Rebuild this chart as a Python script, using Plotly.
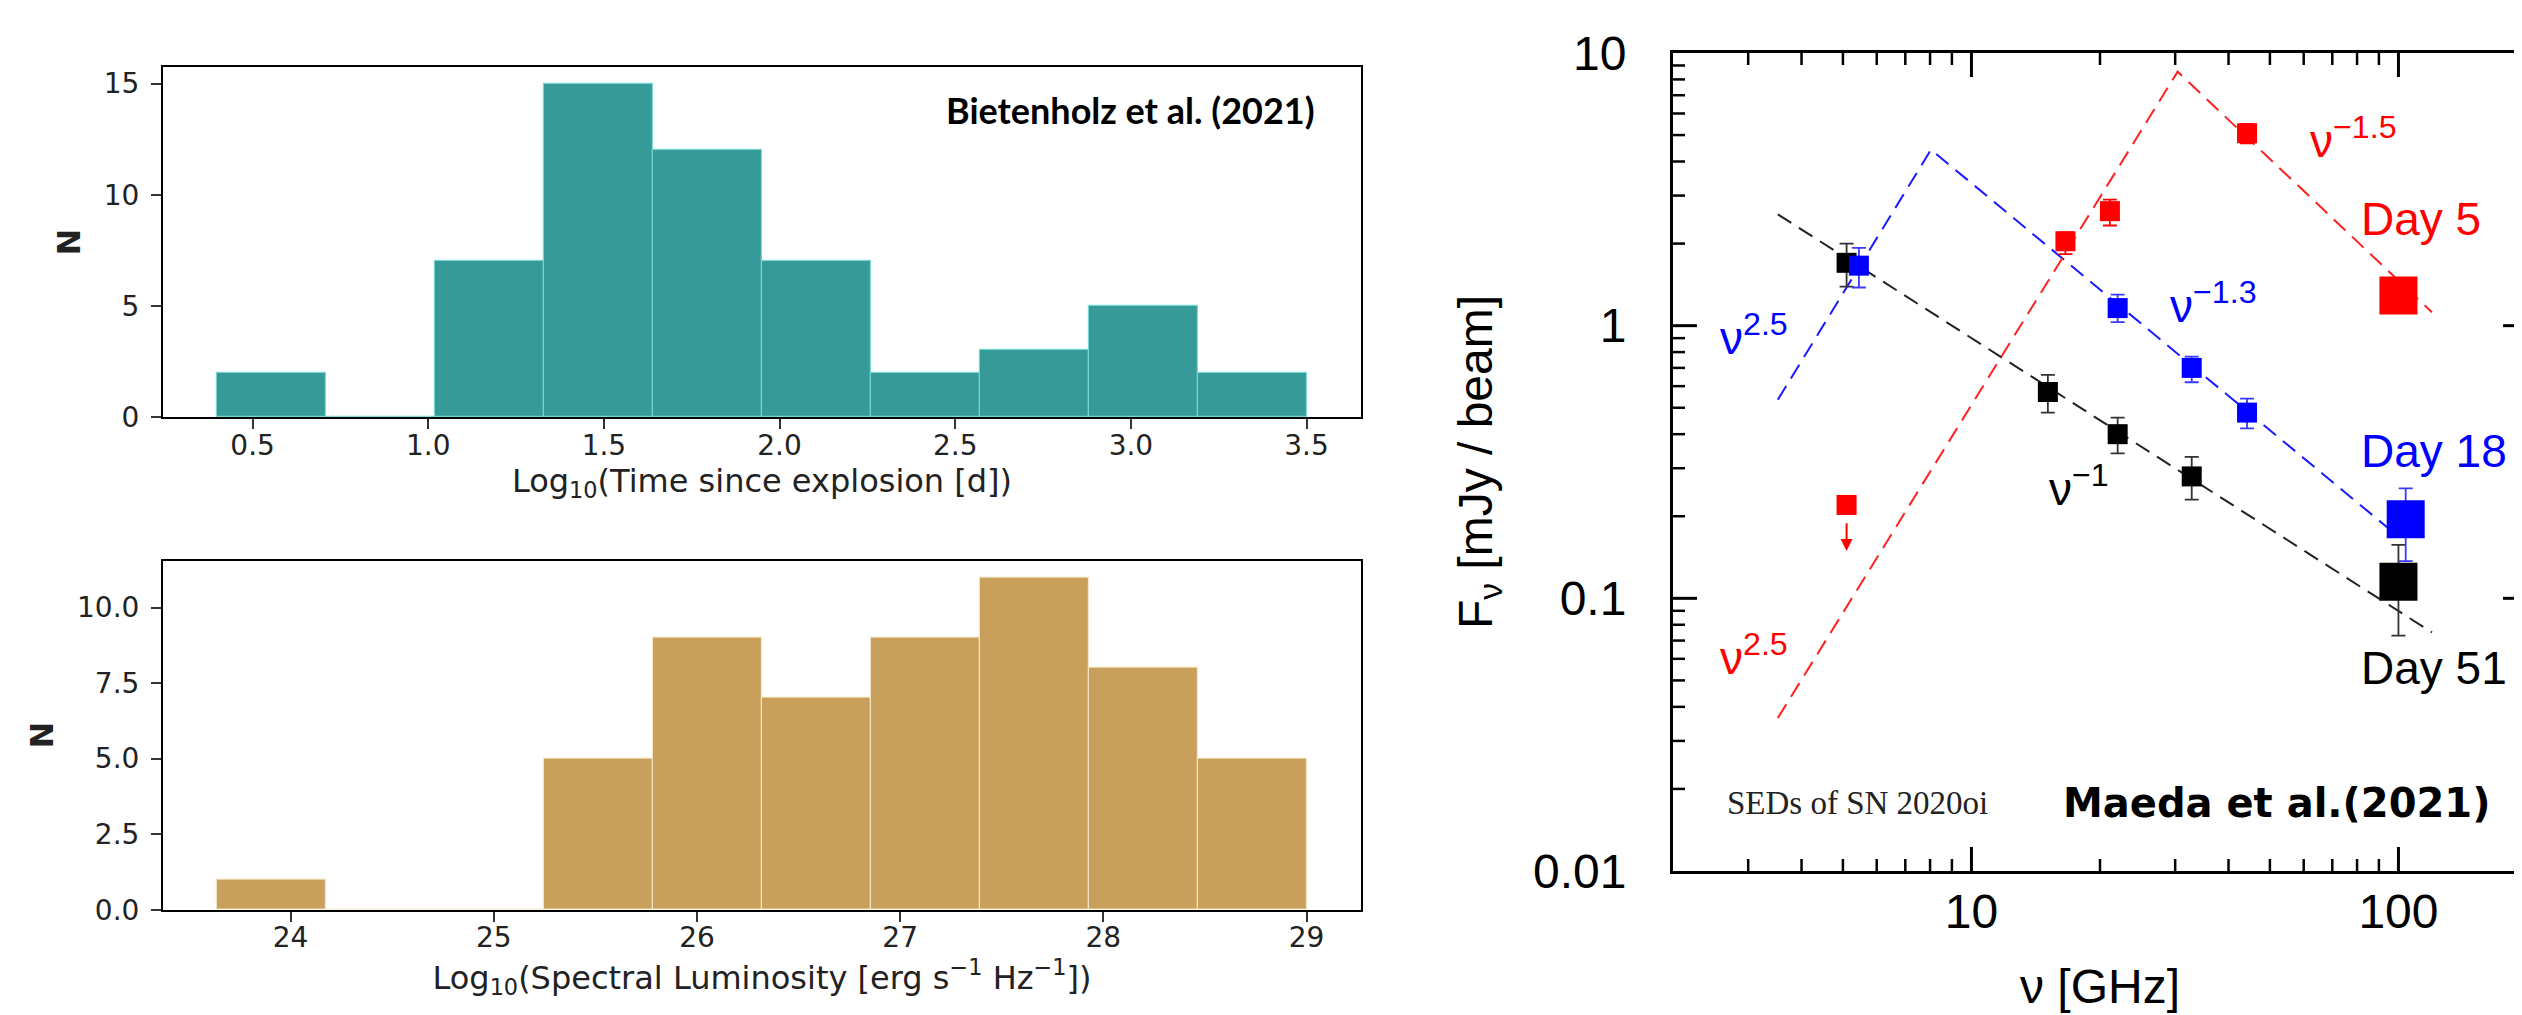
import numpy as np
import plotly.graph_objects as go

# ---------------- data: top-left histogram ----------------
time_bin_edges = [0.40, 0.71, 1.02, 1.33, 1.64, 1.95, 2.26, 2.57, 2.88, 3.19, 3.50]
time_counts = [2, 0, 7, 15, 12, 7, 2, 3, 5, 2]
time_xticks = [0.5, 1.0, 1.5, 2.0, 2.5, 3.0, 3.5]
time_yticks = [0, 5, 10, 15]

# ---------------- data: bottom-left histogram ----------------
lum_bin_edges = [23.64, 24.176, 24.712, 25.248, 25.784, 26.32, 26.856, 27.392, 27.928, 28.464, 29.0]
lum_counts = [1, 0, 0, 5, 9, 7, 9, 11, 8, 5]
lum_xticks = [24, 25, 26, 27, 28, 29]
lum_yticks = [0.0, 2.5, 5.0, 7.5, 10.0]
lum_ytick_text = ["0.0", "2.5", "5.0", "7.5", "10.0"]

# ---------------- data: right SED panel ----------------
day51_nu = [5.1, 15.1, 22.0, 32.8]
day51_flux = [1.70, 0.571, 0.40, 0.28]
day51_hi = [2.00, 0.66, 0.46, 0.33]
day51_lo = [1.39, 0.48, 0.34, 0.23]
day51_mm_nu = [100.0]
day51_mm_flux = [0.115]
day51_mm_hi = [0.157]
day51_mm_lo = [0.073]

day18_nu = [5.45, 22.0, 32.8, 44.2]
day18_flux = [1.66, 1.16, 0.70, 0.48]
day18_hi = [1.93, 1.30, 0.77, 0.54]
day18_lo = [1.38, 1.03, 0.62, 0.42]
day18_mm_nu = [104.0]
day18_mm_flux = [0.195]
day18_mm_hi = [0.253]
day18_mm_lo = [0.137]

day5_nu = [16.6, 21.1, 44.2]
day5_flux = [2.04, 2.63, 5.08]
day5_hi = [2.20, 2.90, 5.50]
day5_lo = [1.83, 2.33, 4.66]
day5_mm_nu = [100.0]
day5_mm_flux = [1.29]
day5_limit_nu = [5.1]
day5_limit_flux = [0.22]
day5_limit_arrow_to = [0.149]

fit51_nu = [3.52, 119.8]
fit51_flux = [2.56, 0.075]
fit18_nu = [3.52, 8.04, 95.0]
fit18_flux = [0.535, 4.42, 0.18]
fit5_nu = [3.52, 30.4, 119.8]
fit5_flux = [0.0364, 8.54, 1.12]

sed_xticks = [10, 100]
sed_xticktext = ["10", "100"]
sed_yticks = [0.01, 0.1, 1, 10]
sed_yticktext = ["0.01", "0.1", "1", "10"]
sed_xminor = [3, 4, 5, 6, 7, 8, 9, 20, 30, 40, 50, 60, 70, 80, 90]
sed_yminor = [0.02, 0.03, 0.04, 0.05, 0.06, 0.07, 0.08, 0.09,
              0.2, 0.3, 0.4, 0.5, 0.6, 0.7, 0.8, 0.9,
              2, 3, 4, 5, 6, 7, 8, 9]

# label texts and anchor positions (data units)
sed_labels = [
    ("ν<sup>−1.5</sup>", 78.5, 4.87, "red"),
    ("Day 5", 113, 2.46, "red"),
    ("ν<sup>−1.3</sup>", 36.9, 1.21, "blue"),
    ("ν<sup>2.5</sup>", 3.10, 0.923, "blue"),
    ("Day 18", 121, 0.346, "blue"),
    ("ν<sup>−1</sup>", 17.9, 0.259, "black"),
    ("ν<sup>2.5</sup>", 3.10, 0.062, "red"),
    ("Day 51", 121, 0.0557, "black"),
]

FIG_W, FIG_H = 2522, 1015
sed_xrange = [np.log10(2), np.log10(200)]
sed_yrange = [-2, 1]
sed_xdom = [0.66019, 0.9988]
sed_ydom = [0.14975, 0.95567]

fig = go.Figure()

# ---------- histograms ----------
def hist_bars(edges, counts, color, edgecolor, xa, ya):
    e = np.array(edges)
    centers = (e[:-1] + e[1:]) / 2
    widths = e[1:] - e[:-1]
    return go.Bar(x=centers, y=counts, width=widths, xaxis=xa, yaxis=ya,
                  marker=dict(color=color, line=dict(color=edgecolor, width=1.2)),
                  textposition="none", hoverinfo="skip", showlegend=False)

fig.add_trace(hist_bars(time_bin_edges, time_counts, "#369b98", "rgba(120,215,215,0.9)", "x", "y"))
fig.add_trace(hist_bars(lum_bin_edges, lum_counts, "#c8a05b", "rgba(245,232,200,0.9)", "x2", "y2"))

# ---------- SED panel: inward tick marks on all four sides ----------
px_per_dec_x = (sed_xdom[1] - sed_xdom[0]) * FIG_W / (sed_xrange[1] - sed_xrange[0])
px_per_dec_y = (sed_ydom[1] - sed_ydom[0]) * FIG_H / (sed_yrange[1] - sed_yrange[0])

def tick_segments(xvals, yvals, length_px):
    xs, ys = [], []
    dy = length_px / px_per_dec_y
    dx = length_px / px_per_dec_x
    for t in xvals:
        lt = np.log10(t)
        if sed_xrange[0] < lt < sed_xrange[1]:
            xs += [t, t, None, t, t, None]
            ys += [10 ** sed_yrange[0], 10 ** (sed_yrange[0] + dy), None,
                   10 ** sed_yrange[1], 10 ** (sed_yrange[1] - dy), None]
    for v in yvals:
        lv = np.log10(v)
        if sed_yrange[0] < lv < sed_yrange[1]:
            xs += [10 ** sed_xrange[0], 10 ** (sed_xrange[0] + dx), None,
                   10 ** sed_xrange[1], 10 ** (sed_xrange[1] - dx), None]
            ys += [v, v, None, v, v, None]
    return xs, ys

for xv, yv, ln, lw in [(sed_xticks, sed_yticks, 24, 3), (sed_xminor, sed_yminor, 12, 2.5)]:
    tx, ty = tick_segments(xv, yv, ln)
    fig.add_trace(go.Scatter(x=tx, y=ty, mode="lines", xaxis="x3", yaxis="y3",
                             line=dict(color="black", width=lw), connectgaps=False,
                             hoverinfo="skip", showlegend=False))

# ---------- SED panel data ----------
def err(vals, hi, lo):
    return (list(np.array(hi) - np.array(vals)), list(np.array(vals) - np.array(lo)))

def add_points(nu, flux, hi, lo, color, size, errcolor=None):
    kw = {}
    if hi is not None:
        p, m = err(flux, hi, lo)
        kw["error_y"] = dict(type="data", symmetric=False, array=p, arrayminus=m,
                             color=errcolor or color, thickness=1.8, width=7)
    fig.add_trace(go.Scatter(x=nu, y=flux, mode="markers", xaxis="x3", yaxis="y3",
                             marker=dict(symbol="square", size=size, color=color,
                                         line=dict(width=0)),
                             hoverinfo="skip", showlegend=False, **kw))

for nu_, fl_, col in [(fit51_nu, fit51_flux, "#222222"),
                      (fit18_nu, fit18_flux, "#1a1aff"),
                      (fit5_nu, fit5_flux, "#ff2020")]:
    fig.add_trace(go.Scatter(x=nu_, y=fl_, mode="lines", xaxis="x3", yaxis="y3",
                             line=dict(color=col, width=2, dash="16px,9px"),
                             hoverinfo="skip", showlegend=False))

add_points(day51_nu, day51_flux, day51_hi, day51_lo, "black", 20, "#333333")
add_points(day51_mm_nu, day51_mm_flux, day51_mm_hi, day51_mm_lo, "black", 38, "#333333")
add_points(day18_nu, day18_flux, day18_hi, day18_lo, "blue", 20, "#3a3aff")
add_points(day18_mm_nu, day18_mm_flux, day18_mm_hi, day18_mm_lo, "blue", 38, "#3a3aff")
add_points(day5_nu, day5_flux, day5_hi, day5_lo, "red", 20)
add_points(day5_mm_nu, day5_mm_flux, None, None, "red", 38)
add_points(day5_limit_nu, day5_limit_flux, None, None, "red", 20)

annotations = []
# upper-limit arrow
annotations.append(dict(x=np.log10(day5_limit_nu[0]), y=np.log10(day5_limit_arrow_to[0]),
                        ax=np.log10(day5_limit_nu[0]), ay=np.log10(day5_limit_flux[0]) - 0.03,
                        xref="x3", yref="y3", axref="x3", ayref="y3",
                        showarrow=True, arrowhead=2, arrowsize=1.2, arrowwidth=2,
                        arrowcolor="red", text=" "))

for txt, xv, yv, col in sed_labels:
    annotations.append(dict(x=np.log10(xv), y=np.log10(yv), xref="x3", yref="y3",
                            text=txt, showarrow=False, xanchor="center", yanchor="middle",
                            font=dict(family="Liberation Sans", size=46, color=col)))

annotations.append(dict(x=np.log10(5.42), y=np.log10(0.0178), xref="x3", yref="y3",
                        text="SEDs of SN 2020oi", showarrow=False,
                        xanchor="center", yanchor="middle",
                        font=dict(family="Liberation Serif", size=33, color="#222")))
annotations.append(dict(x=np.log10(51.8), y=np.log10(0.0178), xref="x3", yref="y3",
                        text="<b>Maeda et al.(2021)</b>", showarrow=False,
                        xanchor="center", yanchor="middle",
                        font=dict(family="DejaVu Sans", size=40, color="black")))

annotations.append(dict(x=0.808, y=0.877, xref="x domain", yref="y domain",
                        text="<b>Bietenholz et al. (2021)</b>", showarrow=False,
                        xanchor="center", yanchor="middle",
                        font=dict(family="Lato", size=36, color="black")))

fig.update_layout(annotations=annotations)

left_tick_font = dict(family="DejaVu Sans", size=28, color="#222")
left_title_font = dict(family="DejaVu Sans", size=32, color="#222")
hist_axis_common = dict(showline=True, linecolor="black", linewidth=2, mirror=True,
                        ticks="outside", ticklen=10, tickwidth=2, tickcolor="#333",
                        showgrid=False, zeroline=False, tickfont=left_tick_font,
                        automargin=False)

sed_font = dict(family="Liberation Sans", size=48, color="black")

fig.update_layout(
    width=FIG_W, height=FIG_H,
    margin=dict(l=0, r=0, t=0, b=0, autoexpand=False),
    paper_bgcolor="white", plot_bgcolor="white",
    bargap=0,
    xaxis=dict(domain=[0.06146, 0.53648], anchor="y", range=[0.245, 3.655],
               tickvals=time_xticks, ticktext=[f"{v:.1f}" for v in time_xticks],
               ticklabelstandoff=-8,
               title=dict(text="Log<sub>10</sub>(Time since explosion [d])",
                          font=left_title_font, standoff=8),
               **hist_axis_common),
    yaxis=dict(domain=[0.59704, 0.94187], anchor="x", range=[0, 15.75],
               tickvals=time_yticks, ticklabelstandoff=6,
               title=dict(text="<b>N</b>", font=left_title_font, standoff=14),
               **hist_axis_common),
    xaxis2=dict(domain=[0.06146, 0.53648], anchor="y2", range=[23.372, 29.268],
                tickvals=lum_xticks, ticklabelstandoff=-8,
                title=dict(text="Log<sub>10</sub>(Spectral Luminosity [erg s<sup>−1</sup> Hz<sup>−1</sup>])",
                           font=left_title_font, standoff=8),
                **hist_axis_common),
    yaxis2=dict(domain=[0.11163, 0.45547], anchor="x2", range=[0, 11.55],
                tickvals=lum_yticks, ticktext=lum_ytick_text, ticklabelstandoff=6,
                title=dict(text="<b>N</b>", font=left_title_font, standoff=14),
                **hist_axis_common),
    xaxis3=dict(domain=sed_xdom, anchor="y3", type="log", range=sed_xrange,
                showline=True, linecolor="black", linewidth=3, mirror=True,
                tickvals=sed_xticks, ticktext=sed_xticktext, tickfont=sed_font,
                ticks="", ticklabelstandoff=-4,
                showgrid=False, zeroline=False, automargin=False,
                title=dict(text="ν [GHz]", font=sed_font, standoff=33)),
    yaxis3=dict(domain=sed_ydom, anchor="x3", type="log", range=sed_yrange,
                showline=True, linecolor="black", linewidth=3, mirror=True,
                tickvals=sed_yticks, ticktext=sed_yticktext, tickfont=sed_font,
                ticks="", ticklabelstandoff=34,
                showgrid=False, zeroline=False, automargin=False,
                title=dict(text="F<sub>ν</sub> [mJy / beam]", font=sed_font, standoff=26)),
)

fig.write_html("out.html")
